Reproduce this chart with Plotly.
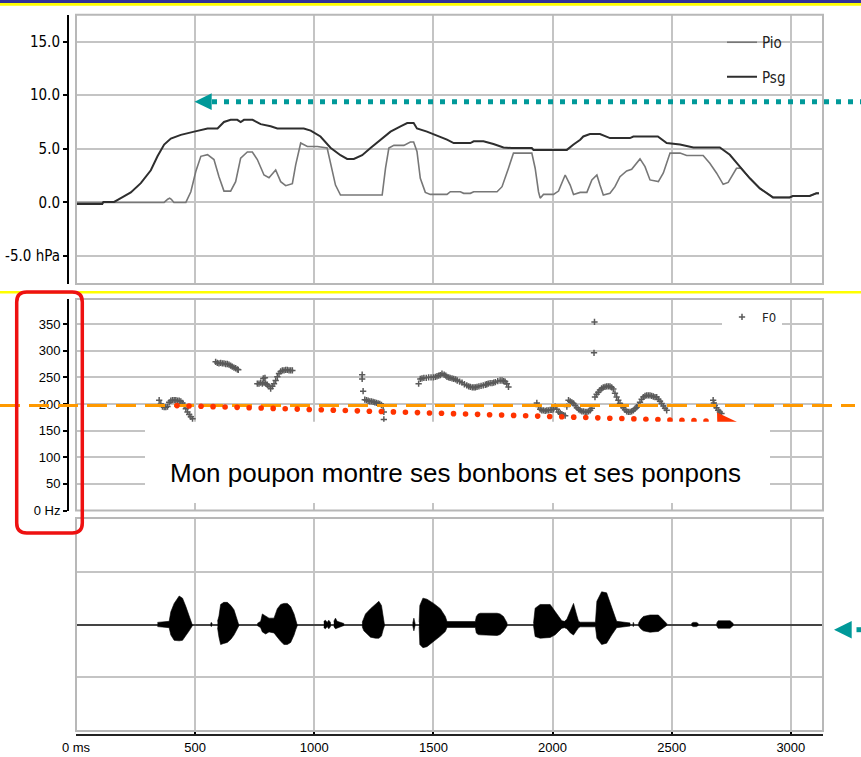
import plotly.graph_objects as go

W, H = 861, 757

# ------------------------------------------------------------------ data
x_ticks = [0, 500, 1000, 1500, 2000, 2500, 3000]
x_ticklabels = ["0 ms", "500", "1000", "1500", "2000", "2500", "3000"]
x_max = 3135

p_ticks = [-5, 0, 5, 10, 15]
p_ticklabels = ["-5.0 hPa", "0.0", "5.0", "10.0", "15.0"]

f_ticks = [0, 50, 100, 150, 200, 250, 300, 350]
f_ticklabels = ["0 Hz", "50", "100", "150", "200", "250", "300", "350"]

# Psg (subglottal pressure, hPa)
psg_t = [0, 110, 115, 160, 188, 230, 272, 314, 342, 370,
         398, 440, 496, 552, 594, 621, 649, 677, 691, 705,
         741, 775, 817, 845, 956, 985, 1026, 1068, 1110, 1138,
         1166, 1201, 1236, 1278, 1320, 1362, 1390, 1417, 1431, 1473,
         1515, 1557, 1585, 1655, 1669, 1710, 1752, 1794, 1829, 1913,
         1920, 2060, 2088, 2116, 2129, 2157, 2199, 2241, 2325, 2339,
         2442, 2479, 2535, 2591, 2702, 2744, 2786, 2828, 2870, 2912,
         2925, 2995, 3008, 3079, 3107, 3118]
psg_v = [-0.15, -0.15, 0.05, 0.05, 0.4, 0.94, 1.8, 3.0, 4.3, 5.4,
         5.95, 6.3, 6.6, 6.9, 6.9, 7.5, 7.7, 7.7, 7.5, 7.7,
         7.7, 7.3, 7.1, 6.9, 6.9, 6.7, 6.15, 5.1, 4.4, 4.06,
         4.06, 4.4, 5.07, 5.85, 6.6, 7.1, 7.4, 7.4, 6.9, 6.6,
         6.25, 5.85, 5.54, 5.54, 5.7, 5.7, 5.45, 5.13, 5.07, 5.07,
         4.9, 4.9, 5.4, 5.85, 6.15, 6.38, 6.38, 6.0, 6.0, 6.15,
         6.15, 5.54, 5.4, 5.13, 5.13, 4.44, 3.34, 2.25, 1.31, 0.69,
         0.47, 0.47, 0.6, 0.6, 0.85, 0.85]

# Pio (intraoral pressure, hPa)
pio_t = [0, 370, 385, 393, 400, 411, 461, 482, 503, 524,
         552, 579, 600, 621, 649, 670, 691, 719, 740, 761,
         789, 810, 838, 859, 880, 908, 922, 943, 971, 1013,
         1054, 1068, 1089, 1110, 1285, 1299, 1313, 1334, 1376, 1403,
         1417, 1431, 1445, 1466, 1487, 1557, 1571, 1613, 1627, 1655,
         1669, 1767, 1788, 1815, 1836, 1913, 1927, 1941, 1948, 1962,
         2004, 2025, 2053, 2074, 2088, 2116, 2144, 2165, 2186, 2199,
         2213, 2241, 2262, 2283, 2311, 2332, 2367, 2388, 2409, 2444,
         2465, 2493, 2535, 2563, 2632, 2660, 2688, 2716, 2737, 2772,
         2790, 2828, 2870, 2912, 2925, 2995, 3008, 3079, 3107, 3118]
pio_v = [0, 0, 0.3, 0.4, 0.3, 0, 0, 1.0, 2.9, 4.3,
         4.45, 4.0, 2.4, 1.06, 1.06, 1.94, 4.13, 4.7, 4.7, 4.0,
         2.56, 2.31, 3.03, 1.94, 1.56, 1.75, 3.5, 5.54, 5.22, 5.22,
         5.07, 3.8, 1.62, 0.69, 0.69, 3.19, 5.07, 5.32, 5.32, 5.63,
         5.63, 4.75, 2.25, 0.94, 0.75, 0.75, 1.0, 1.0, 0.85, 0.85,
         1.0, 1.0, 1.47, 3.19, 4.6, 4.6, 3.19, 1.0, 0.4, 0.75,
         0.75, 1.06, 2.56, 1.62, 0.75, 0.94, 0.94, 2.1, 2.56, 1.62,
         0.69, 0.85, 1.47, 2.4, 2.94, 3.1, 4.06, 3.34, 2.1, 1.94,
         2.75, 4.6, 4.6, 4.37, 4.37, 3.65, 2.75, 1.69, 1.87, 3.19,
         3.2, 2.25, 1.31, 0.69, 0.47, 0.47, 0.6, 0.6, 0.85, 0.85]

# F0 tracks (ms, Hz)
f0_a_t = [349, 356, 363, 370, 377, 384, 391, 398, 405, 412, 419, 426, 433, 440, 447, 454, 461, 468, 475, 482, 489]
f0_a_hz = [207, 200, 195, 194, 194, 195, 203, 206, 207, 207, 207, 206, 206, 205, 202, 197, 191, 185, 180, 176, 172]
f0_b_t = [586, 593, 600, 607, 614, 621, 628, 635, 642, 649, 656, 663, 670, 677, 681]
f0_b_hz = [279, 277, 276, 277, 276, 276, 275, 275, 274, 272, 270, 268, 267, 265, 264]
f0_c_t = [761, 768, 775, 782, 786, 789, 793, 796, 803, 810, 817, 824, 831, 838, 845, 852, 859, 866, 873, 880, 887, 894, 901, 908]
f0_c_hz = [238, 238, 240, 238, 248, 240, 249, 238, 236, 233, 229, 233, 238, 244, 251, 257, 261, 263, 263, 264, 264, 263, 263, 263]
f0_d_t = [1201, 1201, 1205, 1212, 1219, 1226, 1233, 1240, 1247, 1254, 1261, 1268, 1275, 1282, 1289, 1292, 1292]
f0_d_hz = [255, 247, 224, 208, 207, 206, 205, 205, 204, 203, 202, 201, 200, 198, 196, 185, 171]
f0_e_t = [1438, 1445, 1452, 1460, 1470, 1480, 1490, 1500, 1508, 1515,
          1522, 1529, 1536, 1545, 1552, 1557, 1564, 1570, 1578, 1585,
          1593, 1600, 1610, 1620, 1630, 1640, 1648, 1655, 1663, 1670,
          1676, 1683, 1691, 1700, 1709, 1718, 1724, 1730, 1738, 1746,
          1753, 1760, 1770, 1780, 1788, 1795, 1801, 1808, 1815]
f0_e_hz = [238, 247, 248, 249, 249, 250, 250, 250, 251, 252,
           253, 254, 257, 255, 253, 251, 250, 249, 248, 247,
           246, 244, 242, 240, 237, 235, 233, 232, 231, 231,
           231, 232, 233, 234, 235, 236, 237, 238, 239, 239,
           240, 241, 243, 244, 244, 243, 242, 238, 232]
f0_f_t = [1934, 1941, 1948, 1955, 1962, 1969, 1976, 1983, 1990, 1997,
          2004, 2011, 2018, 2025, 2032, 2039, 2046, 2053, 2060, 2067,
          2074, 2081, 2088, 2095, 2102, 2109, 2116, 2123, 2130, 2137,
          2144, 2151, 2158, 2165, 2174, 2176]
f0_f_hz = [202, 195, 190, 188, 188, 187, 188, 188, 189, 189,
           190, 195, 190, 185, 183, 181, 179, 178, 195, 207,
           205, 203, 201, 197, 193, 190, 188, 186, 186, 185,
           185, 186, 188, 192, 296, 354]
f0_g_t = [2178, 2185, 2192, 2199, 2206, 2213, 2220, 2227, 2234, 2241,
          2248, 2255, 2262, 2269, 2276, 2283, 2290, 2297, 2304, 2311,
          2318, 2325, 2332, 2339, 2346, 2353, 2360, 2367, 2374, 2381,
          2388, 2395, 2402, 2409, 2416, 2423, 2430, 2437, 2444, 2451,
          2458, 2465, 2472, 2479]
f0_g_hz = [213, 218, 222, 226, 229, 231, 232, 233, 233, 233,
           231, 228, 220, 213, 207, 201, 197, 193, 189, 186,
           185, 185, 186, 188, 191, 194, 197, 203, 209, 213,
           215, 216, 216, 216, 215, 214, 213, 213, 209, 205,
           201, 196, 192, 188]
f0_h_t = [2674, 2677, 2681, 2688, 2695, 2702, 2709]
f0_h_hz = [207, 202, 197, 193, 188, 185, 182]

f0_reference_hz = 197

# Oscillogram envelope per voiced / noisy segment (ms, upper, lower amplitude)
wave_t = [
    [342, 391, 398, 412, 433, 447, 461, 475, 489],
    [565, 568, 571],
    [594, 600, 607, 620, 635, 650, 663, 677, 684],
    [761, 775, 782, 796, 810, 831, 845, 859, 873, 887, 901, 915, 922, 929],
    [1040, 1047, 1054, 1061, 1068],
    [1082, 1089, 1096, 1110, 1124],
    [1201, 1208, 1215, 1236, 1257, 1271, 1282, 1289, 1295],
    [1413, 1418, 1423],
    [1440, 1443, 1456, 1473, 1501, 1529, 1550, 1557, 1676, 1680, 1688, 1697, 1767, 1780, 1794, 1809],
    [1920, 1927, 1948, 1990, 2011, 2025, 2039, 2050, 2060, 2075, 2088, 2100, 2109, 2116, 2180, 2186,
     2206, 2227, 2248, 2262, 2269, 2325],
    [2337, 2339, 2341],
    [2360, 2370, 2381, 2409, 2444, 2465, 2479],
    [2583, 2590, 2604, 2611],
    [2688, 2695, 2745, 2758],
]
wave_up = [
    [0.02, 0.03, 0.12, 0.2, 0.27, 0.25, 0.17, 0.08, 0.01],
    [0.01, 0.02, 0.01],
    [0.03, 0.08, 0.19, 0.21, 0.21, 0.18, 0.14, 0.05, 0.01],
    [0.01, 0.03, 0.1, 0.08, 0.06, 0.06, 0.15, 0.19, 0.2, 0.2, 0.17, 0.1, 0.05, 0.01],
    [0.03, 0.04, 0.02, 0.04, 0.02],
    [0.03, 0.06, 0.03, 0.02, 0.01],
    [0.02, 0.06, 0.1, 0.15, 0.19, 0.22, 0.18, 0.06, 0.01],
    [0.01, 0.06, 0.01],
    [0.02, 0.18, 0.25, 0.24, 0.2, 0.15, 0.076, 0.028, 0.028, 0.076, 0.1, 0.107, 0.107, 0.1, 0.076, 0.015],
    [0.01, 0.155, 0.19, 0.19, 0.123, 0.076, 0.035, 0.03, 0.05, 0.13, 0.2, 0.1, 0.03, 0.022, 0.022, 0.22,
     0.31, 0.3, 0.155, 0.06, 0.03, 0.015],
    [0.01, 0.02, 0.01],
    [0.01, 0.05, 0.076, 0.09, 0.09, 0.044, 0.01],
    [0.01, 0.02, 0.02, 0.01],
    [0.01, 0.035, 0.035, 0.01],
]
wave_lo = [
    [-0.02, -0.03, -0.1, -0.15, -0.155, -0.15, -0.1, -0.06, -0.01],
    [-0.01, -0.02, -0.01],
    [-0.03, -0.12, -0.19, -0.18, -0.17, -0.14, -0.1, -0.04, -0.01],
    [-0.01, -0.03, -0.07, -0.09, -0.07, -0.08, -0.12, -0.16, -0.19, -0.19, -0.17, -0.1, -0.05, -0.01],
    [-0.03, -0.04, -0.02, -0.04, -0.02],
    [-0.02, -0.04, -0.03, -0.02, -0.01],
    [-0.02, -0.06, -0.08, -0.12, -0.13, -0.13, -0.11, -0.05, -0.01],
    [-0.01, -0.06, -0.01],
    [-0.02, -0.19, -0.22, -0.21, -0.16, -0.11, -0.066, -0.028, -0.028, -0.08, -0.095, -0.098, -0.104,
     -0.095, -0.066, -0.015],
    [-0.01, -0.114, -0.13, -0.123, -0.098, -0.066, -0.035, -0.03, -0.04, -0.08, -0.1, -0.06, -0.03,
     -0.022, -0.022, -0.13, -0.19, -0.177, -0.1, -0.05, -0.03, -0.015],
    [-0.01, -0.02, -0.01],
    [-0.01, -0.04, -0.06, -0.073, -0.066, -0.035, -0.01],
    [-0.01, -0.02, -0.02, -0.01],
    [-0.01, -0.035, -0.035, -0.01],
]

sentence = "Mon poupon montre ses bonbons et ses ponpons"

# ------------------------------------------------------------------ helpers
def px(x):
    return x / W


def py(y):
    return 1 - y / H


NARROW = "Liberation Sans Narrow, Arial Narrow, DejaVu Sans Condensed, sans-serif"
ARIAL = "Liberation Sans, Arial, sans-serif"
GRID = "#c4c4c4"
TEAL = "#009999"
RED = "#FF3300"

f0_t = f0_a_t + f0_b_t + f0_c_t + f0_d_t + f0_e_t + f0_f_t + f0_g_t + f0_h_t
f0_hz = f0_a_hz + f0_b_hz + f0_c_hz + f0_d_hz + f0_e_hz + f0_f_hz + f0_g_hz + f0_h_hz

wx, wy = [], []
for t, up, lo in zip(wave_t, wave_up, wave_lo):
    wx += t + t[::-1] + [None]
    wy += up + lo[::-1] + [None]

# ------------------------------------------------------------------ traces
fig = go.Figure()
fig.add_trace(go.Scatter(x=pio_t, y=pio_v, mode="lines", name="Pio",
                         line=dict(color="#777777", width=1.6),
                         xaxis="x", yaxis="y", legend="legend", legendgroup="pio"))
fig.add_trace(go.Scatter(x=psg_t, y=psg_v, mode="lines", name="Psg",
                         line=dict(color="#2e2e2e", width=2),
                         xaxis="x", yaxis="y", legend="legend", legendgroup="psg"))
fig.add_trace(go.Scatter(x=f0_t, y=f0_hz, mode="markers", name="F0",
                         marker=dict(symbol="cross-thin", size=4.5, color="#5a5a5a",
                                     line=dict(width=1.5, color="#5a5a5a")),
                         xaxis="x2", yaxis="y2", legend="legend2"))
fig.add_trace(go.Scatter(x=wx, y=wy, mode="lines", fill="toself", fillcolor="black",
                         line=dict(color="black", width=0.6), showlegend=False,
                         xaxis="x3", yaxis="y3"))

# ------------------------------------------------------------------ axes
xdom = [px(76), px(823)]
xcommon = dict(range=[0, x_max], tickvals=x_ticks, showgrid=True, gridcolor=GRID,
               gridwidth=1.5, zeroline=False, domain=xdom, automargin=False)
ycommon = dict(showgrid=True, gridcolor=GRID, gridwidth=1.5, zeroline=False, automargin=False)

fig.update_layout(
    width=W, height=H, margin=dict(l=0, r=0, t=0, b=0, autoexpand=False),
    paper_bgcolor="white", plot_bgcolor="white",
    xaxis=dict(**xcommon, anchor="y", showticklabels=False, ticks=""),
    xaxis2=dict(**xcommon, anchor="y2", matches="x", showticklabels=False, ticks=""),
    xaxis3=dict(**xcommon, anchor="free", position=py(735), matches="x",
                ticktext=x_ticklabels, ticks="inside", ticklen=4, tickwidth=1.5,
                tickcolor="black", showline=True, linecolor="#222", linewidth=2,
                tickfont=dict(family=ARIAL, size=13, color="black")),
    yaxis=dict(**ycommon, domain=[py(284), py(14.7)], range=[-7.6, 17.5],
               anchor="free", position=px(68), tickvals=p_ticks, ticktext=p_ticklabels,
               ticks="outside", ticklen=4, tickwidth=1.5, tickcolor="black",
               showline=True, linecolor="black", linewidth=2,
               tickfont=dict(family=NARROW, size=15, color="black")),
    yaxis2=dict(**ycommon, domain=[py(510.5), py(299)], range=[0, 397],
                anchor="free", position=px(68), tickvals=f_ticks, ticktext=f_ticklabels,
                ticks="outside", ticklen=4, tickwidth=1.5, tickcolor="black",
                showline=True, linecolor="black", linewidth=2,
                tickfont=dict(family=ARIAL, size=13, color="black")),
    yaxis3=dict(showgrid=True, gridcolor=GRID, gridwidth=1.5, domain=[py(731), py(518)],
                range=[-1.01, 1.01], tickvals=[-0.5, 0.5], showticklabels=False, ticks="",
                anchor="x3", zeroline=True, zerolinecolor="#444444", zerolinewidth=1.5,
                automargin=False),
    legend=dict(x=px(722), y=py(26), xanchor="left", yanchor="top",
                bgcolor="rgba(255,255,255,0)", traceorder="grouped", tracegroupgap=12,
                font=dict(family=NARROW, size=15, color="#222")),
    legend2=dict(x=px(722), y=py(302), xanchor="left", yanchor="top",
                 bgcolor="white", font=dict(family=NARROW, size=13, color="#222")),
)

# ------------------------------------------------------------------ decorations
shapes = []
# top banner
shapes.append(dict(type="rect", xref="paper", yref="paper", x0=0, x1=1, y0=py(3), y1=1,
                   fillcolor="#333399", line=dict(width=0), layer="above"))
shapes.append(dict(type="rect", xref="paper", yref="paper", x0=0, x1=1, y0=py(5.7), y1=py(3),
                   fillcolor="#FFFF00", line=dict(width=0), layer="above"))
# yellow separator
shapes.append(dict(type="line", xref="paper", yref="paper", x0=0, x1=1, y0=py(292.3), y1=py(292.3),
                   line=dict(color="#FFFF00", width=2.5), layer="above"))
# panel borders
for xa, ya in (("x", "y"), ("x2", "y2"), ("x3", "y3")):
    shapes.append(dict(type="rect", xref=f"{xa} domain", yref=f"{ya} domain",
                       x0=0, x1=1, y0=0, y1=1, line=dict(color="#b8b8b8", width=2),
                       layer="above"))
# orange reference line at ~197 Hz
shapes.append(dict(type="line", xref="paper", yref="y2", x0=0, x1=px(855),
                   y0=f0_reference_hz, y1=f0_reference_hz,
                   line=dict(color="#FF9900", width=3, dash="20px,9px"), layer="above"))
# teal dotted arrow (top panel)
shapes.append(dict(type="line", xref="paper", yref="paper", x0=px(212), x1=1,
                   y0=py(101.7), y1=py(101.7),
                   line=dict(color=TEAL, width=5, dash="5px,7px"), layer="above"))
shapes.append(dict(type="path", xref="paper", yref="paper",
                   path=f"M{px(194.5)},{py(101.7)} L{px(211.7)},{py(93.3)} L{px(211.7)},{py(110.1)} Z",
                   fillcolor=TEAL, line=dict(width=0), layer="above"))
# teal arrow (bottom panel)
shapes.append(dict(type="path", xref="paper", yref="paper",
                   path=f"M{px(834)},{py(629.7)} L{px(851.7)},{py(621)} L{px(851.7)},{py(638.4)} Z",
                   fillcolor=TEAL, line=dict(width=0), layer="above"))
shapes.append(dict(type="line", xref="paper", yref="paper", x0=px(856.5), x1=1,
                   y0=py(629.7), y1=py(629.7), line=dict(color=TEAL, width=5), layer="above"))
# red dotted arrow (F0 declination)
x_start, y_start, x_end, y_end = 177.0, 405.6, 706.0, 421.0
n_dots = int(round((x_end - x_start) / 12.0)) + 1
r = 2.8
for i in range(n_dots):
    cx = x_start + (x_end - x_start) * i / (n_dots - 1)
    cy = y_start + (y_end - y_start) * i / (n_dots - 1)
    shapes.append(dict(type="circle", xref="paper", yref="paper",
                       x0=px(cx - r), x1=px(cx + r), y0=py(cy + r), y1=py(cy - r),
                       fillcolor=RED, line=dict(width=0), layer="above"))
shapes.append(dict(type="path", xref="paper", yref="paper",
                   path=f"M{px(736.7)},{py(421.7)} L{px(717)},{py(412.5)} L{px(717.5)},{py(431)} Z",
                   fillcolor=RED, line=dict(width=0), layer="above"))
# white caption box
shapes.append(dict(type="rect", xref="paper", yref="paper", x0=px(145), x1=px(770),
                   y0=py(503), y1=py(421.7), fillcolor="white", line=dict(width=0), layer="above"))
# red rounded rectangle around F0 axis
x0, x1, y0, y1, rr = 16.7, 82.3, 292.0, 533.0, 10.0
path = (f"M{px(x0 + rr)},{py(y0)} L{px(x1 - rr)},{py(y0)} Q{px(x1)},{py(y0)} {px(x1)},{py(y0 + rr)} "
        f"L{px(x1)},{py(y1 - rr)} Q{px(x1)},{py(y1)} {px(x1 - rr)},{py(y1)} "
        f"L{px(x0 + rr)},{py(y1)} Q{px(x0)},{py(y1)} {px(x0)},{py(y1 - rr)} "
        f"L{px(x0)},{py(y0 + rr)} Q{px(x0)},{py(y0)} {px(x0 + rr)},{py(y0)} Z")
shapes.append(dict(type="path", xref="paper", yref="paper", path=path,
                   line=dict(color="#EE1111", width=3.5), layer="above"))

fig.update_layout(shapes=shapes)

fig.add_annotation(x=px(455), y=py(473), xref="paper", yref="paper", text=sentence,
                   showarrow=False, xanchor="center", yanchor="middle",
                   font=dict(family=ARIAL, size=26, color="black"))

fig.write_html("out.html", config={"displayModeBar": False},
               post_script="document.body.style.margin='0';document.body.style.overflow='hidden';")
